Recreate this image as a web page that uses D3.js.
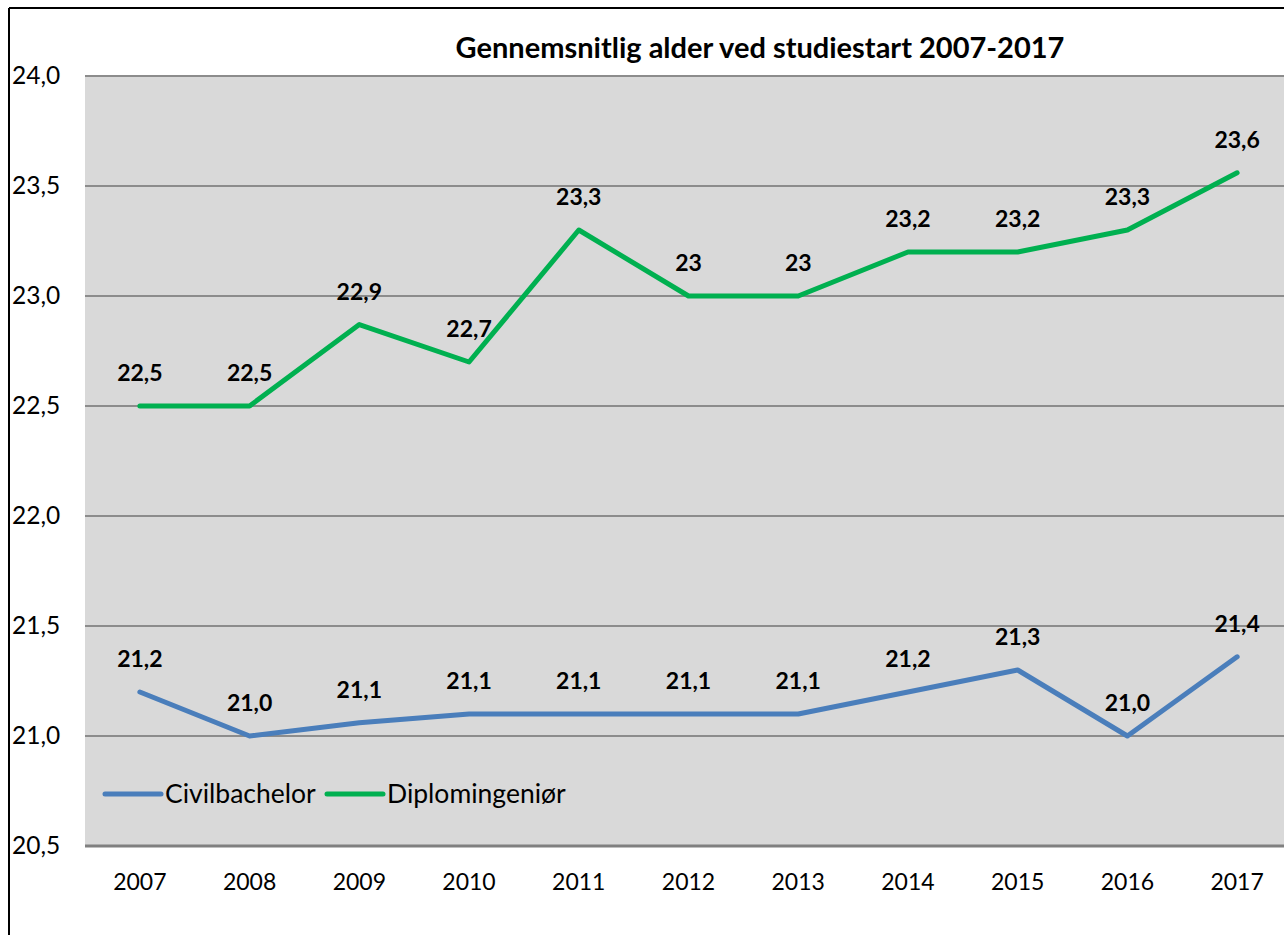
<!DOCTYPE html>
<html>
<head>
<meta charset="utf-8">
<script src="https://cdn.jsdelivr.net/npm/d3@7"></script>
<style>
  body { margin: 0; background: #fff; }
  text { font-family: Lato, "Noto Sans", sans-serif; }
</style>
</head>
<body>
<script>
let width = 1284;
let height = 935;

let years = ['2007', '2008', '2009', '2010', '2011', '2012', '2013', '2014', '2015', '2016', '2017'];
let civilValues = [21.2, 21.0, 21.06, 21.1, 21.1, 21.1, 21.1, 21.2, 21.3, 21.0, 21.36];
let civilLabels = ['21,2', '21,0', '21,1', '21,1', '21,1', '21,1', '21,1', '21,2', '21,3', '21,0', '21,4'];
let diplomValues = [22.5, 22.5, 22.87, 22.7, 23.3, 23.0, 23.0, 23.2, 23.2, 23.3, 23.56];
let diplomLabels = ['22,5', '22,5', '22,9', '22,7', '23,3', '23', '23', '23,2', '23,2', '23,3', '23,6'];
let yTicks = [20.5, 21.0, 21.5, 22.0, 22.5, 23.0, 23.5, 24.0];

let series = [
    { name: 'Civilbachelor', values: civilValues, labels: civilLabels, color: '#4a7ebb' },
    { name: 'Diplomingeniør', values: diplomValues, labels: diplomLabels, color: '#00b050' }
];

let plotLeft = 85, plotRight = 1292, plotTop = 76, plotBottom = 846;

let svg = d3.select('body').append('svg')
            .attr('width', width)
            .attr('height', height);

// outer chart frame
svg.append('line').attr('x1', 9).attr('x2', width).attr('y1', 8).attr('y2', 8)
    .attr('stroke', '#000').attr('stroke-width', 2);
svg.append('line').attr('x1', 9).attr('x2', 9).attr('y1', 8).attr('y2', height)
    .attr('stroke', '#000').attr('stroke-width', 2);

let xScale = d3.scalePoint()
                .domain(years)
                .range([plotLeft, plotRight])
                .padding(0.5);

let yScale = d3.scaleLinear()
                .domain([20.5, 24.0])
                .range([plotBottom, plotTop]);

svg.append('rect')
    .attr('x', plotLeft).attr('y', plotTop)
    .attr('width', plotRight - plotLeft).attr('height', plotBottom - plotTop)
    .attr('fill', '#d9d9d9');

// gridlines
svg.append('g').selectAll('line')
    .data(yTicks)
    .enter()
    .append('line')
    .attr('x1', plotLeft).attr('x2', plotRight)
    .attr('y1', function(d) { return yScale(d); })
    .attr('y2', function(d) { return yScale(d); })
    .attr('stroke', function(d) { return d === 20.5 ? '#808080' : '#8c8c8c'; })
    .attr('stroke-width', function(d) { return d === 20.5 ? 3 : 2; });

// y tick labels
svg.append('g').selectAll('text')
    .data(yTicks)
    .enter()
    .append('text')
    .attr('x', 12)
    .attr('y', function(d) { return yScale(d) + 8; })
    .attr('font-size', 24.5)
    .attr('fill', '#000')
    .text(function(d) { return d3.format('.1f')(d).replace('.', ','); });

// x tick labels
svg.append('g').selectAll('text')
    .data(years)
    .enter()
    .append('text')
    .attr('x', function(d) { return xScale(d); })
    .attr('y', 890)
    .attr('text-anchor', 'middle')
    .attr('font-size', 23)
    .attr('fill', '#000')
    .text(function(d) { return d; });

let line = d3.line()
    .x(function(d, i) { return xScale(years[i]); })
    .y(function(d) { return yScale(d); });

series.forEach(function(s) {
    svg.append('path')
        .datum(s.values)
        .attr('d', line)
        .attr('fill', 'none')
        .attr('stroke', s.color)
        .attr('stroke-width', 5)
        .attr('stroke-linecap', 'round')
        .attr('stroke-linejoin', 'round');

    svg.append('g').selectAll('text')
        .data(s.values)
        .enter()
        .append('text')
        .attr('x', function(d, i) { return xScale(years[i]); })
        .attr('y', function(d) { return yScale(d) - 25; })
        .attr('text-anchor', 'middle')
        .attr('font-size', 23)
        .attr('font-weight', 'bold')
        .attr('fill', '#000')
        .text(function(d, i) { return s.labels[i]; });
});

// legend
let legendX = [105, 327];
series.forEach(function(s, i) {
    let g = svg.append('g').attr('transform', 'translate(' + legendX[i] + ',794)');
    g.append('line').attr('x1', 0).attr('x2', 56).attr('y1', 0).attr('y2', 0)
        .attr('stroke', s.color).attr('stroke-width', 5).attr('stroke-linecap', 'round');
    g.append('text').attr('x', 60).attr('y', 9)
        .attr('font-size', 26.5).attr('fill', '#000')
        .text(s.name);
});

svg.append('text')
    .attr('x', 760)
    .attr('y', 58)
    .attr('text-anchor', 'middle')
    .attr('font-size', 29)
    .attr('font-weight', 'bold')
    .attr('fill', '#000')
    .text('Gennemsnitlig alder ved studiestart 2007-2017');
</script>
</body>
</html>
